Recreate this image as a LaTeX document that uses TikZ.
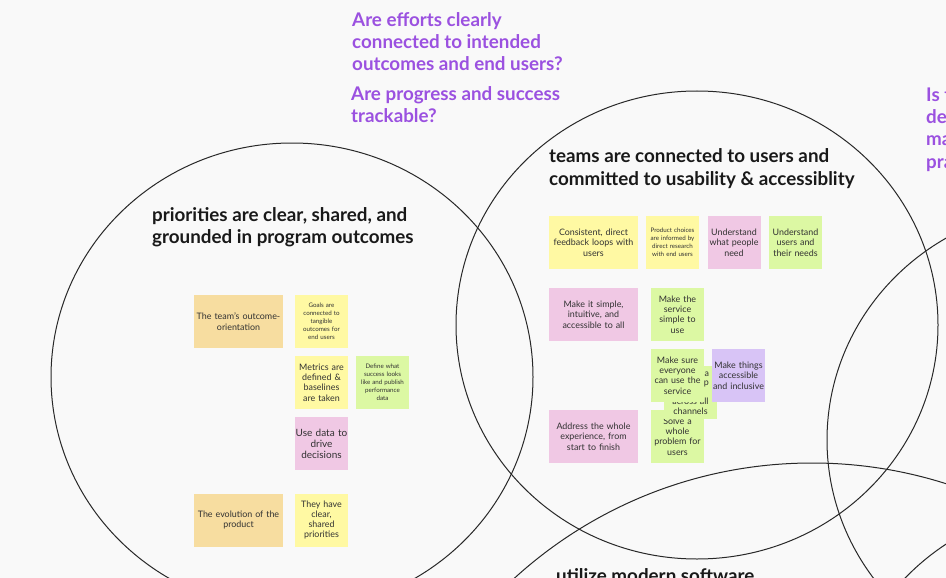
\documentclass[tikz,border=0pt]{standalone}
\usepackage{fontspec}
\setmainfont{Lato}
\definecolor{bgc}{RGB}{249,249,249}
\definecolor{qpurple}{RGB}{155,81,224}
\definecolor{cOrange}{RGB}{247,221,160}
\definecolor{cYellow}{RGB}{255,249,163}
\definecolor{cPink}{RGB}{240,200,228}
\definecolor{cGreen}{RGB}{220,248,163}
\definecolor{cPurple}{RGB}{216,196,246}
\definecolor{notetext}{RGB}{50,50,50}
\definecolor{ringc}{RGB}{40,40,40}
\begin{document}
\begin{tikzpicture}[x=1pt,y=-1pt,
  ring/.style={draw=ringc, line width=1pt},
  title/.style={anchor=base west, inner sep=0pt, align=left, font=\bfseries\fontsize{18.8}{22.3}\selectfont, text=black!90},
  question/.style={title, text=qpurple},
  note/.style={rectangle, inner sep=0pt, align=center, text=notetext, font=\fontsize{8.9}{10.3}\selectfont},
  sq/.style={note, minimum width=53pt, minimum height=53pt, text width=52pt},
  wide/.style={note, minimum width=89pt, minimum height=53pt, text width=88pt},
  tiny/.style={font=\fontsize{6.2}{8}\selectfont},
  big/.style={font=\fontsize{10}{11}\selectfont}
]
\useasboundingbox (0,0) rectangle (946,578);
\fill[bgc] (0,0) rectangle (946,578);
\clip (0,0) rectangle (946,578);

% rings
\draw[ring] (292,377) ellipse [x radius=241pt, y radius=234pt];
\draw[ring] (697,325) ellipse [x radius=241pt, y radius=234pt];
\draw[ring] (812,905) ellipse [x radius=442pt, y radius=442pt];
\draw[ring] (1068,440) ellipse [x radius=241pt, y radius=234pt];
\draw[ring] (1081,738) ellipse [x radius=241pt, y radius=234pt];

% questions (anchored at the baseline of the last line)
\node[question] (q1) at (352,71) {Are efforts clearly\\connected to intended\\outcomes and end users?};
\node[question] (q2) at (351,123) {Are progress and success\\trackable?};
\node[question] (q3) at (926,168) {Is t\\de\\ma\\pra};

% titles
\node[title] (t1) at (152,243.7) {priorities are clear, shared, and\\grounded in program outcomes};
\node[title] (t2) at (549,185) {teams are connected to users and\\committed to usability \& accessiblity};
\node[title] (t3) at (556,582) {utilize modern software};

% left group
\node[wide, fill=cOrange] (o1) at (238.5,321.5) {The team's outcome-\\orientation};
\node[sq, fill=cYellow, tiny] (y1) at (321.5,321.5) {Goals are\\connected to\\tangible\\outcomes for\\end users};
\node[sq, fill=cYellow] (y2) at (321.5,382.5) {Metrics are\\defined \&\\baselines\\are taken};
\node[sq, fill=cGreen, tiny] (g1) at (382.5,382.5) {Define what\\success looks\\like and publish\\performance\\data};
\node[sq, fill=cPink, big] (p1) at (321.5,443.5) {Use data to\\drive\\decisions};
\node[wide, fill=cOrange] (o2) at (238.5,520) {The evolution of the\\product};
\node[sq, fill=cYellow] (y3) at (321.5,520) {They have\\clear,\\shared\\priorities};

% middle group
\node[wide, fill=cYellow] (m1) at (593.5,242.5) {Consistent, direct\\feedback loops with\\users};
\node[sq, fill=cYellow, tiny] (m2) at (672.5,242.5) {Product choices\\are informed by\\direct research\\with end users};
\node[sq, fill=cPink] (m3) at (734,242.5) {Understand\\what people\\need};
\node[sq, fill=cGreen] (m4) at (795.5,242.5) {Understand\\users and\\their needs};
\node[wide, fill=cPink] (m5) at (593.5,314.5) {Make it simple,\\intuitive, and\\accessible to all};
\node[sq, fill=cGreen] (m6) at (677.5,314.5) {Make the\\service\\simple to\\use};
\node[wide, fill=cPink] (m11) at (593.5,436.5) {Address the whole\\experience, from\\start to finish};
\node[sq, fill=cGreen] (m10) at (677.5,436.5) {Solve a\\whole\\problem for\\users};
\node[sq, fill=cGreen, font=\fontsize{8.9}{9.5}\selectfont] (m8) at (690.5,392) {Provide a\\joined up\\service\\across all\\channels};
\node[sq, fill=cGreen] (m7) at (677.5,375.5) {Make sure\\everyone\\can use the\\service};
\node[sq, fill=cPurple] (m9) at (738.5,375.5) {Make things\\accessible\\and inclusive};
\end{tikzpicture}
\end{document}
